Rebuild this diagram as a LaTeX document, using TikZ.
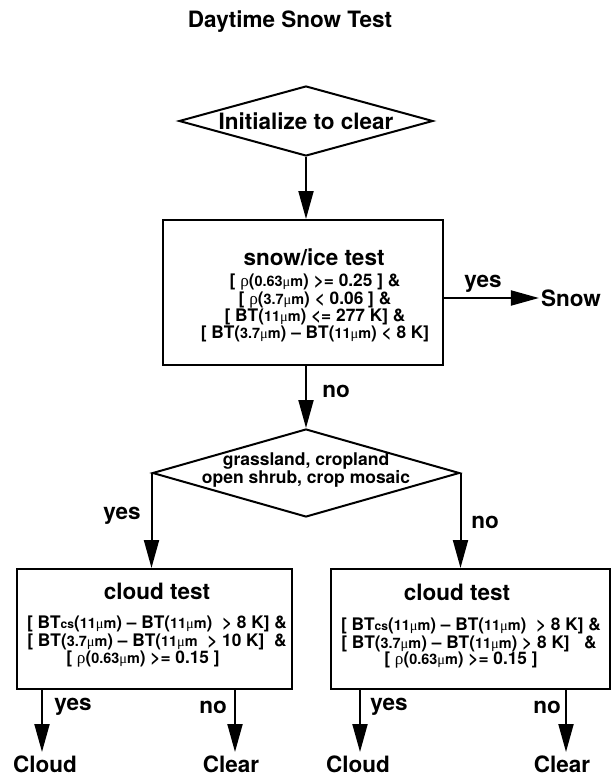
\documentclass[tikz,border=0pt]{standalone}
\usepackage{fontspec}
\usepackage{relsize}
\setmainfont{TeX Gyre Heros}
\newfontfamily\grk{Liberation Serif}
\usetikzlibrary{arrows.meta,shapes.geometric}
\newcommand\fszb[2]{\fontsize{#1}{#2}\selectfont}
\newcommand\rh{{\grk\mdseries ρ}}
\newcommand\um{{\grk\mdseries μ}m}
\newcommand\sm[1]{{\relscale{0.85}#1}}
\newcommand\cs{{\relscale{0.7}cs}}
\begin{document}
\begin{tikzpicture}[x=1pt,y=-1pt,
  every node/.style={font=\bfseries, inner sep=2pt},
  big/.style={font=\bfseries\fszb{22.5}{24}},
  lbl/.style={font=\bfseries\fszb{22.5}{24}},
  ccond/.style={font=\bfseries\fszb{17.3}{18}},
  dia/.style={diamond, draw, line width=2pt, inner sep=0pt, minimum width=#1},
  box/.style={rectangle, draw, line width=2pt, inner sep=0pt},
  arr/.style={line width=2pt, -{Triangle[length=28pt,width=15pt]}}]
\useasboundingbox (0,0) rectangle (611,778);

\node[big] (title) at (290,22) {Daytime Snow Test};

\node[dia=254pt, minimum height=70pt] (d1) at (306,121) {};
\node[big] (d1t) at (306,121) {Initialize to clear};

\node[box, minimum width=280pt, minimum height=145pt] (b1) at (303,292.5) {};
\node[big] (b1h) at (314,257) {snow/ice test};
\node[align=center, font=\bfseries\fszb{17.3}{14.4}] (b1t) at (315,308)
 {[ \rh(\sm{0.63\um}) >= 0.25 ] \&\\{}%
  [ \rh(\sm{3.7\um}) < 0.06 ] \&\\{}%
  [ BT(\sm{11\um}) <= 277 K] \&\\{}%
  [ BT(\sm{3.7\um}) – BT(\sm{11\um}) < 8 K]};

\node[lbl] (snow) at (571,298) {Snow};
\node[lbl] (yes1) at (483,284) {yes};
\draw[arr] (b1.east |- snow.west) -- (snow.west);

\node[dia=307pt, minimum height=88pt] (d2) at (306,473) {};
\node[align=center, font=\bfseries\fszb{17.5}{18}] (d2t) at (306,470)
 {grassland, cropland\\open shrub, crop mosaic};

\draw[arr] (d1.south) -- (d1.south |- b1.north);
\draw[arr] (b1.south -| d2.north) -- (d2.north);
\node[lbl] (no1) at (336,391) {no};

% lower boxes
\node[box, minimum width=275pt, minimum height=120pt] (b2) at (154.5,629) {};
\node[box, minimum width=279pt, minimum height=120pt] (b3) at (470.5,629) {};

\draw[arr] (d2.west) -- (d2.west |- b2.north);
\draw[arr] (d2.east) -- (d2.east |- b3.north);
\node[lbl] (yes2) at (122,516) {yes};
\node[lbl] (no2) at (485,522) {no};

\node[big] (b2h) at (157,591) {cloud test};
\node[ccond] (b2a) at (157,624) {[ BT\cs(\sm{11\um}) – BT(\sm{11\um})\ \ > 8 K] \&};
\node[ccond] (b2b) at (157,642) {[ BT(\sm{3.7\um}) – BT(\sm{11\um}\ \ > 10 K]\ \ \&};
\node[ccond] (b2c) at (143,659) {[ \rh(\sm{0.63\um}) >= 0.15 ]};

\node[big] (b3h) at (457,592) {cloud test};
\node[ccond] (b3a) at (471,626) {[ BT\cs(\sm{11\um}) – BT(\sm{11\um})\ \ > 8 K] \&};
\node[ccond] (b3b) at (469,644) {[ BT(\sm{3.7\um}) – BT(\sm{11\um}) > 8 K]\ \ \ \&};
\node[ccond] (b3c) at (461,660) {[ \rh(\sm{0.63\um}) >= 0.15 ]};

% outputs
\node[lbl, anchor=north] (cl1) at (45,754) {Cloud};
\node[lbl, anchor=north] (cr1) at (231,754) {Clear};
\node[lbl, anchor=north] (cl2) at (358,754) {Cloud};
\node[lbl, anchor=north] (cr2) at (562,754) {Clear};
\coordinate (t1) at (42,752);
\coordinate (t2) at (235,752);
\coordinate (t3) at (360,752);
\coordinate (t4) at (566,752);
\draw[arr] (t1 |- b2.south) -- (t1);
\draw[arr] (t2 |- b2.south) -- (t2);
\draw[arr] (t3 |- b3.south) -- (t3);
\draw[arr] (t4 |- b3.south) -- (t4);
\node[lbl] (yes3) at (73,707) {yes};
\node[lbl] (no3) at (213,707) {no};
\node[lbl] (yes4) at (389,707) {yes};
\node[lbl] (no4) at (547,707) {no};
\end{tikzpicture}
\end{document}
